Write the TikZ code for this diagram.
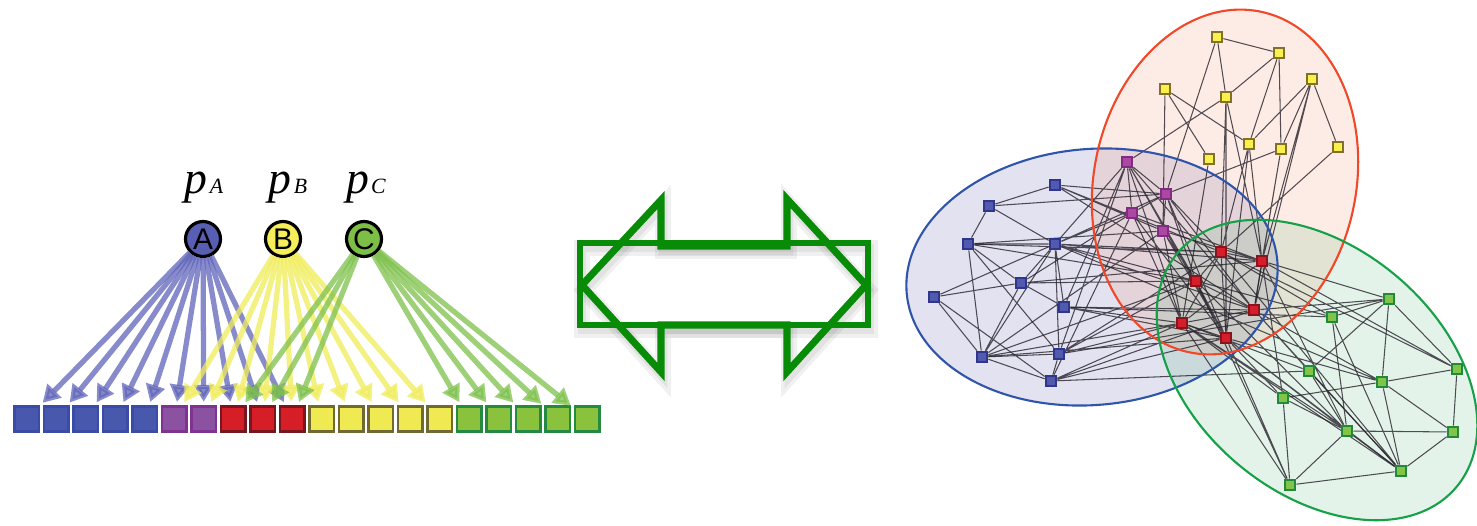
\documentclass[tikz,border=0pt]{standalone}
\usepackage{fontspec}
\setmainfont{Liberation Serif}
\newfontfamily\circfont{Liberation Sans}
\usetikzlibrary{arrows.meta}

\pgfdeclarelayer{back}
\pgfdeclarelayer{mid}
\pgfsetlayers{back,mid,main}

% sources
\definecolor{blueA}{RGB}{88,94,178}
\definecolor{yellowB}{RGB}{245,238,90}
\definecolor{greenC}{RGB}{125,190,70}
\definecolor{fanA}{RGB}{95,100,185}
\definecolor{fanB}{RGB}{240,236,90}
\definecolor{fanC}{RGB}{125,192,75}
% row of cells
\definecolor{cellblue}{RGB}{72,88,172}
\definecolor{cellblueline}{RGB}{58,76,166}
\definecolor{cellpurple}{RGB}{138,82,160}
\definecolor{cellpurpleline}{RGB}{128,50,145}
\definecolor{cellred}{RGB}{214,30,38}
\definecolor{cellredline}{RGB}{120,22,32}
\definecolor{cellyellow}{RGB}{240,234,82}
\definecolor{cellyellowline}{RGB}{112,106,50}
\definecolor{cellgreen}{RGB}{138,194,62}
\definecolor{cellgreenline}{RGB}{36,138,66}
% graph
\definecolor{vblue}{RGB}{82,90,176}
\definecolor{vblueline}{RGB}{48,54,140}
\definecolor{vpurple}{RGB}{172,72,164}
\definecolor{vpurpleline}{RGB}{128,44,128}
\definecolor{vred}{RGB}{214,30,42}
\definecolor{vredline}{RGB}{138,20,30}
\definecolor{vyellow}{RGB}{250,240,76}
\definecolor{vyellowline}{RGB}{128,112,40}
\definecolor{vgreen}{RGB}{128,196,72}
\definecolor{vgreenline}{RGB}{36,136,60}
\definecolor{linkgray}{RGB}{40,35,45}
\definecolor{ringblue}{RGB}{48,84,170}
\definecolor{ringred}{RGB}{240,72,40}
\definecolor{ringgreen}{RGB}{22,160,72}
\definecolor{regblue}{RGB}{60,60,160}
\definecolor{regred}{RGB}{240,110,60}
\definecolor{reggreen}{RGB}{30,160,70}
\definecolor{swapgreen}{RGB}{8,140,8}

\begin{document}
\begin{tikzpicture}[x=0.1mm, y=0.1mm]
\tikzstyle{every node}+=[inner sep=0pt]
\tikzstyle{cell}=[draw, rectangle, minimum size=0.246cm, line width=0.8pt]
\tikzstyle{vtx}=[draw, rectangle, minimum size=0.108cm, line width=0.55pt]
\tikzstyle{src}=[draw=black, circle, minimum size=0.35cm, line width=0.9pt, font=\circfont\fontsize{8.5}{8.5}\selectfont]
\tikzstyle{link}=[draw=linkgray, line width=0.3pt, draw opacity=0.8]
\tikzstyle{fan}=[line width=1.5pt, -{Triangle[width=0.19cm,length=0.17cm]}, opacity=0.75, shorten >=1pt]
\useasboundingbox (0,0) rectangle (1477,-525);

% labels and sources
\node[anchor=base] (pA) at (204,-194) {\fontsize{13}{13}\selectfont\itshape p\kern0.6pt{\fontsize{6.2}{6.2}\selectfont A}};
\node[anchor=base] (pB) at (288,-194) {\fontsize{13}{13}\selectfont\itshape p\kern0.6pt{\fontsize{6.2}{6.2}\selectfont B}};
\node[anchor=base] (pC) at (366,-194) {\fontsize{13}{13}\selectfont\itshape p\kern0.6pt{\fontsize{6.2}{6.2}\selectfont C}};
\node[src, fill=blueA] (A) at (203,-239) {A};
\node[src, fill=yellowB] (B) at (283,-239) {B};
\node[src, fill=greenC] (C) at (364,-239) {C};

% row of cells
\node[cell, fill=cellblue, draw=cellblueline] (sq1) at (26.75,-419) {};
\node[cell, fill=cellblue, draw=cellblueline] (sq2) at (56.25,-419) {};
\node[cell, fill=cellblue, draw=cellblueline] (sq3) at (85.75,-419) {};
\node[cell, fill=cellblue, draw=cellblueline] (sq4) at (115.25,-419) {};
\node[cell, fill=cellblue, draw=cellblueline] (sq5) at (144.75,-419) {};
\node[cell, fill=cellpurple, draw=cellpurpleline] (sq6) at (174.25,-419) {};
\node[cell, fill=cellpurple, draw=cellpurpleline] (sq7) at (203.75,-419) {};
\node[cell, fill=cellred, draw=cellredline] (sq8) at (233.25,-419) {};
\node[cell, fill=cellred, draw=cellredline] (sq9) at (262.75,-419) {};
\node[cell, fill=cellred, draw=cellredline] (sq10) at (292.25,-419) {};
\node[cell, fill=cellyellow, draw=cellyellowline] (sq11) at (321.75,-419) {};
\node[cell, fill=cellyellow, draw=cellyellowline] (sq12) at (351.25,-419) {};
\node[cell, fill=cellyellow, draw=cellyellowline] (sq13) at (380.75,-419) {};
\node[cell, fill=cellyellow, draw=cellyellowline] (sq14) at (410.25,-419) {};
\node[cell, fill=cellyellow, draw=cellyellowline] (sq15) at (439.75,-419) {};
\node[cell, fill=cellgreen, draw=cellgreenline] (sq16) at (469.25,-419) {};
\node[cell, fill=cellgreen, draw=cellgreenline] (sq17) at (498.75,-419) {};
\node[cell, fill=cellgreen, draw=cellgreenline] (sq18) at (528.25,-419) {};
\node[cell, fill=cellgreen, draw=cellgreenline] (sq19) at (557.75,-419) {};
\node[cell, fill=cellgreen, draw=cellgreenline] (sq20) at (587.25,-419) {};

% fan out of A, B, C
\draw[fan, fanA] (A) -- (sq1);
\draw[fan, fanA] (A) -- (sq2);
\draw[fan, fanA] (A) -- (sq3);
\draw[fan, fanA] (A) -- (sq4);
\draw[fan, fanA] (A) -- (sq5);
\draw[fan, fanA] (A) -- (sq6);
\draw[fan, fanA] (A) -- (sq7);
\draw[fan, fanA] (A) -- (sq8);
\draw[fan, fanA] (A) -- (sq9);
\draw[fan, fanA] (A) -- (sq10);
\draw[fan, fanB] (B) -- (sq6);
\draw[fan, fanB] (B) -- (sq7);
\draw[fan, fanB] (B) -- (sq8);
\draw[fan, fanB] (B) -- (sq9);
\draw[fan, fanB] (B) -- (sq10);
\draw[fan, fanB] (B) -- (sq11);
\draw[fan, fanB] (B) -- (sq12);
\draw[fan, fanB] (B) -- (sq13);
\draw[fan, fanB] (B) -- (sq14);
\draw[fan, fanB] (B) -- (sq15);
\draw[fan, fanC] (C) -- (sq8);
\draw[fan, fanC] (C) -- (sq9);
\draw[fan, fanC] (C) -- (sq10);
\draw[fan, fanC] (C) -- (sq16);
\draw[fan, fanC] (C) -- (sq17);
\draw[fan, fanC] (C) -- (sq18);
\draw[fan, fanC] (C) -- (sq19);
\draw[fan, fanC] (C) -- (sq20);

% double arrow with a soft shadow
\begin{scope}[shift={(2,-5)}, black, opacity=0.06]
\draw[line width=4.5pt] (580,-243) rectangle (868,-325);
\draw[line width=4.5pt] (582,-285) -- (661,-200) -- (661,-246) -- (787,-246) -- (787,-199) -- (866,-285) -- (787,-372) -- (787,-325) -- (661,-325) -- (661,-372) -- cycle;
\draw[line width=2.5pt] (580,-243) rectangle (868,-325);
\draw[line width=2.5pt] (582,-285) -- (661,-200) -- (661,-246) -- (787,-246) -- (787,-199) -- (866,-285) -- (787,-372) -- (787,-325) -- (661,-325) -- (661,-372) -- cycle;
\end{scope}
\draw[swapgreen, line width=1.6pt] (580,-243) rectangle (868,-325);
\draw[swapgreen, line width=2pt, line join=miter] (582,-285) -- (661,-200) -- (661,-246) -- (787,-246) -- (787,-199) -- (866,-285) -- (787,-372) -- (787,-325) -- (661,-325) -- (661,-372) -- cycle;

% graph vertices
\node[vtx, fill=vblue, draw=vblueline] (b1) at (1055,-185) {};
\node[vtx, fill=vblue, draw=vblueline] (b2) at (989,-206) {};
\node[vtx, fill=vblue, draw=vblueline] (b3) at (968,-244) {};
\node[vtx, fill=vblue, draw=vblueline] (b4) at (1055,-244) {};
\node[vtx, fill=vblue, draw=vblueline] (b5) at (1021,-283) {};
\node[vtx, fill=vblue, draw=vblueline] (b6) at (934,-297) {};
\node[vtx, fill=vblue, draw=vblueline] (b7) at (1064,-307) {};
\node[vtx, fill=vblue, draw=vblueline] (b8) at (982,-357) {};
\node[vtx, fill=vblue, draw=vblueline] (b9) at (1059,-354) {};
\node[vtx, fill=vblue, draw=vblueline] (b10) at (1051,-381) {};
\node[vtx, fill=vpurple, draw=vpurpleline] (m1) at (1127,-162) {};
\node[vtx, fill=vpurple, draw=vpurpleline] (m2) at (1166,-194) {};
\node[vtx, fill=vpurple, draw=vpurpleline] (m3) at (1132,-213) {};
\node[vtx, fill=vpurple, draw=vpurpleline] (m4) at (1163,-231) {};
\node[vtx, fill=vred, draw=vredline] (r1) at (1221,-252) {};
\node[vtx, fill=vred, draw=vredline] (r2) at (1262,-261) {};
\node[vtx, fill=vred, draw=vredline] (r3) at (1196,-281) {};
\node[vtx, fill=vred, draw=vredline] (r4) at (1254,-310) {};
\node[vtx, fill=vred, draw=vredline] (r5) at (1182,-323) {};
\node[vtx, fill=vred, draw=vredline] (r6) at (1226,-338) {};
\node[vtx, fill=vyellow, draw=vyellowline] (y1) at (1217,-37) {};
\node[vtx, fill=vyellow, draw=vyellowline] (y2) at (1279,-53) {};
\node[vtx, fill=vyellow, draw=vyellowline] (y3) at (1312,-79) {};
\node[vtx, fill=vyellow, draw=vyellowline] (y4) at (1165,-89) {};
\node[vtx, fill=vyellow, draw=vyellowline] (y5) at (1226,-97) {};
\node[vtx, fill=vyellow, draw=vyellowline] (y6) at (1249,-144) {};
\node[vtx, fill=vyellow, draw=vyellowline] (y7) at (1281,-149) {};
\node[vtx, fill=vyellow, draw=vyellowline] (y8) at (1338,-147) {};
\node[vtx, fill=vyellow, draw=vyellowline] (y9) at (1209,-159) {};
\node[vtx, fill=vgreen, draw=vgreenline] (g1) at (1389,-299) {};
\node[vtx, fill=vgreen, draw=vgreenline] (g2) at (1332,-317) {};
\node[vtx, fill=vgreen, draw=vgreenline] (g3) at (1457,-369) {};
\node[vtx, fill=vgreen, draw=vgreenline] (g4) at (1309,-371) {};
\node[vtx, fill=vgreen, draw=vgreenline] (g5) at (1382,-382) {};
\node[vtx, fill=vgreen, draw=vgreenline] (g6) at (1283,-398) {};
\node[vtx, fill=vgreen, draw=vgreenline] (g7) at (1347,-431) {};
\node[vtx, fill=vgreen, draw=vgreenline] (g8) at (1453,-432) {};
\node[vtx, fill=vgreen, draw=vgreenline] (g9) at (1401,-471) {};
\node[vtx, fill=vgreen, draw=vgreenline] (g10) at (1290,-485) {};

% the three groups
\begin{pgfonlayer}{back}
\fill[regblue, opacity=0.15, rotate around={5:(1092,-277)}] (1092,-277) ellipse (186 and 128);
\fill[regred, opacity=0.13, rotate around={-12:(1225,-182)}] (1225,-182) ellipse (131 and 174);
\fill[reggreen, opacity=0.12, rotate around={-40:(1317,-370)}] (1317,-370) ellipse (182 and 123);
\end{pgfonlayer}

\begin{pgfonlayer}{mid}
% blue group
\draw[link] (b1)--(b2) (b2)--(b3) (b2)--(b4) (b3)--(b4) (b3)--(b5) (b3)--(b8) (b3)--(b9) (b6)--(b5) (b6)--(b4) (b6)--(b8) (b6)--(b10) (b4)--(b5) (b4)--(b7) (b5)--(b7) (b8)--(b4) (b8)--(b9) (b8)--(b10) (b9)--(b10) (b4)--(b9) (b8)--(b5);
\draw[link] (b1)--(m2) (b1)--(r1) (b1)--(r4) (b1)--(m4) (b2)--(m2) (b4)--(m1) (b4)--(m2) (b4)--(r1) (b4)--(r3) (b4)--(r2) (b4)--(r4) (b4)--(m3) (b3)--(r1) (b3)--(r3) (b3)--(m4) (b5)--(r3) (b5)--(r2) (b5)--(m3) (b7)--(r5) (b7)--(m1) (b7)--(r6) (b7)--(r4) (b8)--(r5) (b8)--(r6) (b8)--(m4) (b8)--(r3) (b9)--(r5) (b9)--(r3) (b9)--(m1) (b9)--(r1) (b10)--(r5) (b10)--(r6) (b10)--(m3) (b10)--(r4);
% shared part
\draw[link] (m1)--(m2) (m1)--(m3) (m1)--(r3) (m1)--(r5) (m1)--(r6) (m1)--(r4) (m2)--(m3) (m2)--(r1) (m2)--(r3) (m2)--(r4) (m2)--(r6) (m3)--(r5) (m3)--(r6) (m4)--(r3) (m4)--(r6) (m4)--(r5) (m2)--(m4) (r1)--(r3) (r1)--(r2) (r1)--(r5) (r1)--(r6) (r2)--(r4) (r3)--(r4) (r3)--(r6) (r4)--(r5) (r5)--(r6) (r2)--(r5) (m3)--(r2) (m4)--(r2);
% yellow group
\draw[link] (y1)--(y2) (y1)--(y5) (y1)--(m2) (y2)--(y5) (y2)--(y6) (y2)--(y7) (y3)--(y6) (y3)--(y7) (y3)--(y8) (y3)--(r2) (y3)--(r4) (y4)--(y6) (y4)--(y9) (y4)--(m4) (y5)--(m1) (y5)--(r1) (y5)--(r2) (y6)--(r1) (y6)--(r2) (y7)--(m2) (y7)--(r4) (y7)--(r2) (y8)--(r1) (y9)--(r5) (y6)--(r6) (y5)--(r6);
% green group
\draw[link] (g1)--(g2) (g1)--(g4) (g1)--(g5) (g1)--(g3) (g2)--(g7) (g2)--(g9) (g3)--(g5) (g3)--(g8) (g4)--(g7) (g4)--(g9) (g5)--(g6) (g5)--(g8) (g5)--(g9) (g6)--(g7) (g6)--(g10) (g7)--(g8) (g7)--(g10) (g7)--(g9) (g9)--(g10) (g8)--(g9);
\draw[link] (r2)--(g1) (r4)--(g1) (r1)--(g2) (r3)--(g2) (r4)--(g5) (r6)--(g5) (r5)--(g4) (r3)--(g7) (r6)--(g7) (r5)--(g9) (r4)--(g9) (r1)--(g3) (r6)--(g10) (r5)--(g6) (r2)--(g6) (r3)--(g10) (r5)--(g10) (r1)--(g9) (r2)--(g7) (r4)--(g4) (r6)--(g6) (r6)--(g9) (r5)--(g7) (r2)--(g3) (b7)--(g2) (b9)--(g1) (b4)--(g5) (b10)--(g4);
% outlines
\draw[ringblue, line width=0.6pt, rotate around={5:(1092,-277)}] (1092,-277) ellipse (186 and 128);
\draw[ringred, line width=0.6pt, rotate around={-12:(1225,-182)}] (1225,-182) ellipse (131 and 174);
\draw[ringgreen, line width=0.6pt, rotate around={-40:(1317,-370)}] (1317,-370) ellipse (182 and 123);
\end{pgfonlayer}
\end{tikzpicture}
\end{document}
